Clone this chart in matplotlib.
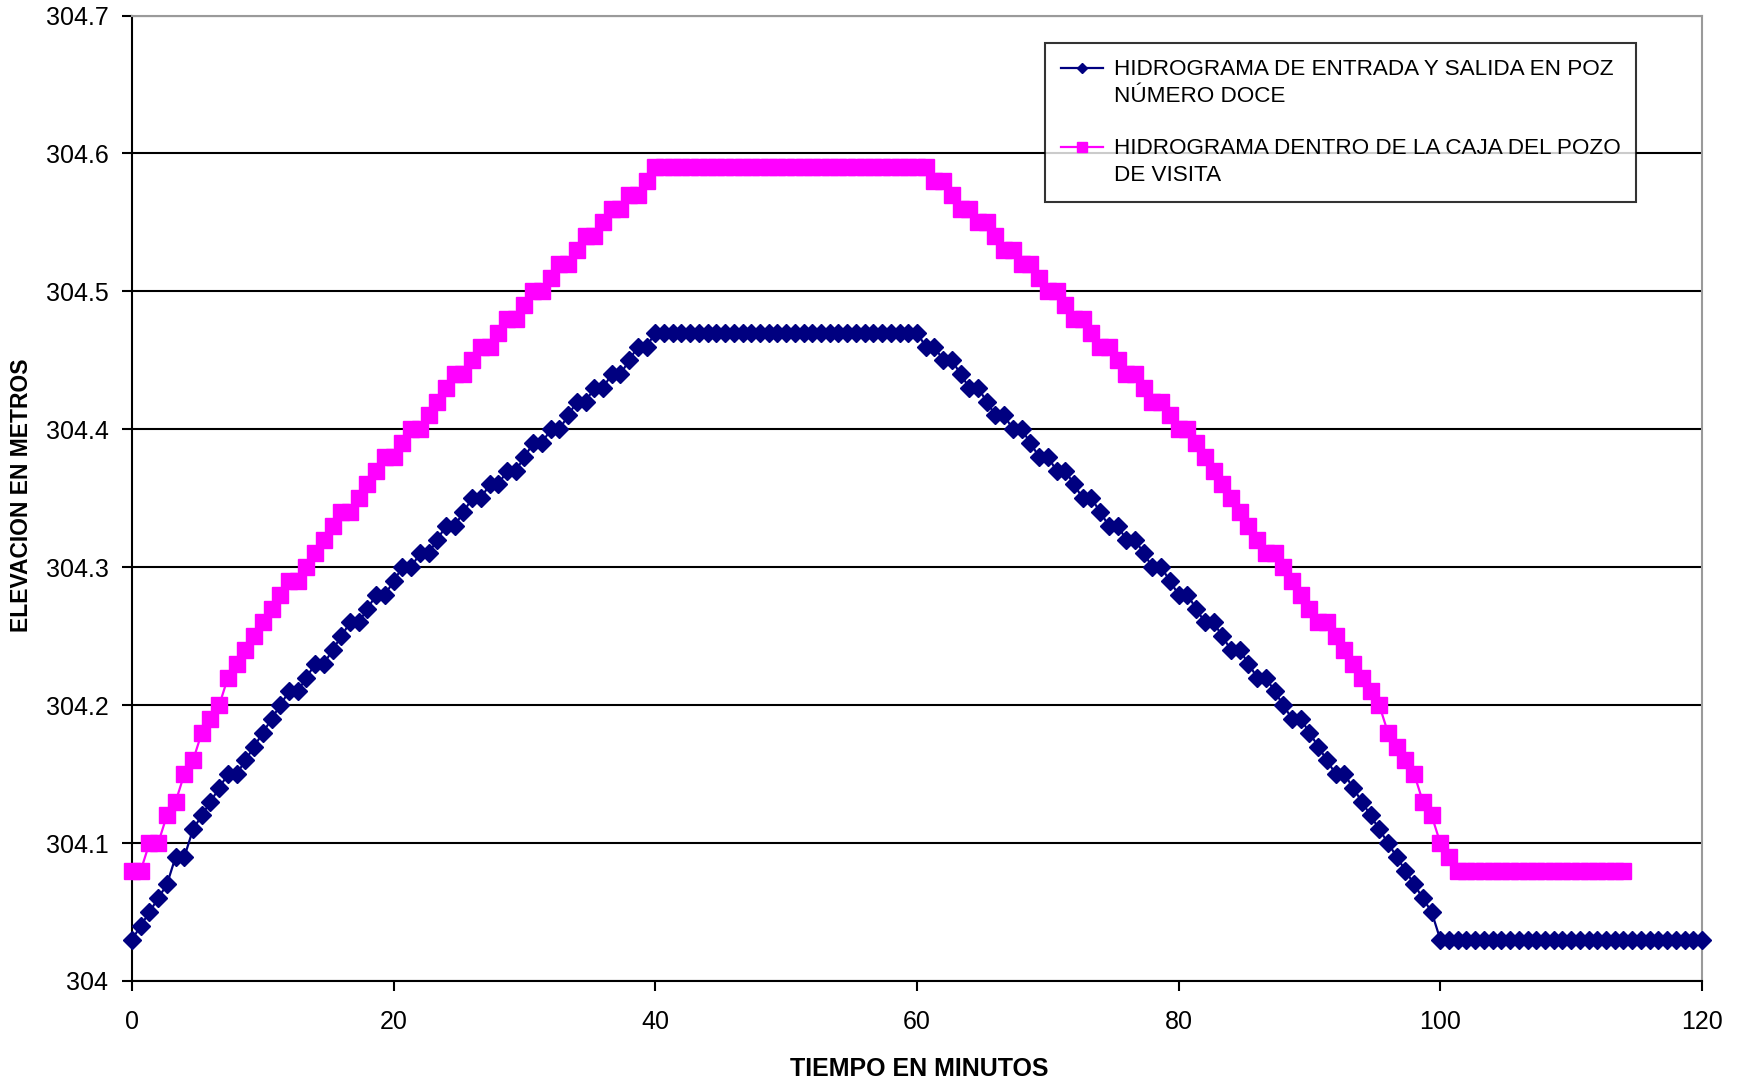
import matplotlib
matplotlib.use("Agg")
import matplotlib.pyplot as plt
import numpy as np
from matplotlib import font_manager
from matplotlib.legend_handler import HandlerLine2D

# ---------------- data ----------------
TIME_STEP_MIN = 40.0 / 60.0   # one reading every 40 s

# HIDROGRAMA DE ENTRADA Y SALIDA EN POZO NUMERO DOCE (m)
blue_elev = [
    304.03, 304.04, 304.05, 304.06, 304.07, 304.09, 304.09, 304.11, 304.12, 304.13,
    304.14, 304.15, 304.15, 304.16, 304.17, 304.18, 304.19, 304.20, 304.21, 304.21,
    304.22, 304.23, 304.23, 304.24, 304.25, 304.26, 304.26, 304.27, 304.28, 304.28,
    304.29, 304.30, 304.30, 304.31, 304.31, 304.32, 304.33, 304.33, 304.34, 304.35,
    304.35, 304.36, 304.36, 304.37, 304.37, 304.38, 304.39, 304.39, 304.40, 304.40,
    304.41, 304.42, 304.42, 304.43, 304.43, 304.44, 304.44, 304.45, 304.46, 304.46,
    304.47,
    304.47, 304.47, 304.47, 304.47, 304.47, 304.47, 304.47, 304.47, 304.47, 304.47,
    304.47, 304.47, 304.47, 304.47, 304.47, 304.47, 304.47, 304.47, 304.47, 304.47,
    304.47, 304.47, 304.47, 304.47, 304.47, 304.47, 304.47, 304.47, 304.47, 304.47,
    304.46, 304.46, 304.45, 304.45, 304.44, 304.43, 304.43, 304.42, 304.41, 304.41,
    304.40, 304.40, 304.39, 304.38, 304.38, 304.37, 304.37, 304.36, 304.35, 304.35,
    304.34, 304.33, 304.33, 304.32, 304.32, 304.31, 304.30, 304.30, 304.29, 304.28,
    304.28, 304.27, 304.26, 304.26, 304.25, 304.24, 304.24, 304.23, 304.22, 304.22,
    304.21, 304.20, 304.19, 304.19, 304.18, 304.17, 304.16, 304.15, 304.15, 304.14,
    304.13, 304.12, 304.11, 304.10, 304.09, 304.08, 304.07, 304.06, 304.05, 304.03,
    304.03, 304.03, 304.03, 304.03, 304.03, 304.03, 304.03, 304.03, 304.03, 304.03,
    304.03, 304.03, 304.03, 304.03, 304.03, 304.03, 304.03, 304.03, 304.03, 304.03,
    304.03, 304.03, 304.03, 304.03, 304.03, 304.03, 304.03, 304.03, 304.03, 304.03,
]

# HIDROGRAMA DENTRO DE LA CAJA DEL POZO DE VISITA (m)
magenta_elev = [
    304.08, 304.08, 304.10, 304.10, 304.12, 304.13, 304.15, 304.16, 304.18, 304.19,
    304.20, 304.22, 304.23, 304.24, 304.25, 304.26, 304.27, 304.28, 304.29, 304.29,
    304.30, 304.31, 304.32, 304.33, 304.34, 304.34, 304.35, 304.36, 304.37, 304.38,
    304.38, 304.39, 304.40, 304.40, 304.41, 304.42, 304.43, 304.44, 304.44, 304.45,
    304.46, 304.46, 304.47, 304.48, 304.48, 304.49, 304.50, 304.50, 304.51, 304.52,
    304.52, 304.53, 304.54, 304.54, 304.55, 304.56, 304.56, 304.57, 304.57, 304.58,
    304.59,
    304.59, 304.59, 304.59, 304.59, 304.59, 304.59, 304.59, 304.59, 304.59, 304.59,
    304.59, 304.59, 304.59, 304.59, 304.59, 304.59, 304.59, 304.59, 304.59, 304.59,
    304.59, 304.59, 304.59, 304.59, 304.59, 304.59, 304.59, 304.59, 304.59, 304.59,
    304.59,
    304.58, 304.58, 304.57, 304.56, 304.56, 304.55, 304.55, 304.54, 304.53, 304.53,
    304.52, 304.52, 304.51, 304.50, 304.50, 304.49, 304.48, 304.48, 304.47, 304.46,
    304.46, 304.45, 304.44, 304.44, 304.43, 304.42, 304.42, 304.41, 304.40, 304.40,
    304.39, 304.38, 304.37, 304.36, 304.35, 304.34, 304.33, 304.32, 304.31, 304.31,
    304.30, 304.29, 304.28, 304.27, 304.26, 304.26, 304.25, 304.24, 304.23, 304.22,
    304.21, 304.20, 304.18, 304.17, 304.16, 304.15, 304.13, 304.12, 304.10, 304.09,
    304.08, 304.08, 304.08, 304.08, 304.08, 304.08, 304.08, 304.08, 304.08, 304.08,
    304.08, 304.08, 304.08, 304.08, 304.08, 304.08, 304.08, 304.08, 304.08, 304.08,
]

blue_label = "HIDROGRAMA DE ENTRADA Y SALIDA EN POZ\nNÚMERO DOCE"
magenta_label = "HIDROGRAMA DENTRO DE LA CAJA DEL POZO\nDE VISITA"

x_ticks = [0, 20, 40, 60, 80, 100, 120]
y_ticks = [304.0, 304.1, 304.2, 304.3, 304.4, 304.5, 304.6, 304.7]
y_tick_labels = ["304", "304.1", "304.2", "304.3", "304.4", "304.5", "304.6", "304.7"]

x_title = "TIEMPO EN MINUTOS"
y_title = "ELEVACION EN METROS"

# ---------------- fonts ----------------
names = {f.name for f in font_manager.fontManager.ttflist}
narrow = "Liberation Sans Narrow" if "Liberation Sans Narrow" in names else "Liberation Sans"
plt.rcParams["font.family"] = ["Liberation Sans", "DejaVu Sans"]


class FirstLineHandler(HandlerLine2D):
    """Place the legend key level with the first line of a two-line label."""
    def __init__(self, shift=0.0, **kw):
        super().__init__(**kw)
        self.shift = shift

    def create_artists(self, legend, orig_handle, xdescent, ydescent, width,
                       height, fontsize, trans):
        return super().create_artists(legend, orig_handle, xdescent,
                                      ydescent - 2 * self.shift, width, height,
                                      fontsize, trans)


# ---------------- figure ----------------
fig = plt.figure(figsize=(17.4, 10.87), dpi=100)
ax = fig.add_axes([132 / 1740, 1 - 981 / 1087, 1570 / 1740, 965.5 / 1087])

t_blue = np.arange(len(blue_elev)) * TIME_STEP_MIN
t_mag = np.arange(len(magenta_elev)) * TIME_STEP_MIN

l1, = ax.plot(t_blue, blue_elev, color="#000080", lw=1.6, marker="D", ms=9,
              mec="#000080", mfc="#000080", label=blue_label, clip_on=False, zorder=4)
l2, = ax.plot(t_mag, magenta_elev, color="#FF00FF", lw=1.6, marker="s", ms=11,
              mec="#FF00FF", mfc="#FF00FF", label=magenta_label, clip_on=False, zorder=3)

ax.set_xlim(0, 120)
ax.set_ylim(304.0, 304.7)
ax.set_xticks(x_ticks)
ax.set_xticklabels([str(v) for v in x_ticks])
ax.set_yticks(y_ticks)
ax.set_yticklabels(y_tick_labels)

ax.yaxis.grid(True, color="black", lw=1.5)
ax.set_axisbelow(True)

for side in ("left", "bottom"):
    ax.spines[side].set_color("black")
    ax.spines[side].set_linewidth(1.5)
for side in ("top", "right"):
    ax.spines[side].set_color("#9a9a9a")
    ax.spines[side].set_linewidth(1.5)

ax.tick_params(axis="both", direction="out", length=7, width=1.5, labelsize=18,
               colors="black")
ax.tick_params(axis="y", pad=10)
ax.tick_params(axis="x", pad=14)

fig.text(828 * 1740 / 1568 / 1740, 1 - 1069 / 1087, x_title, ha="center", va="center",
         fontsize=18, fontweight="bold", family=[narrow, "DejaVu Sans"])
fig.text(22 / 1740, 1 - 495 / 1087, y_title, ha="center", va="center",
         rotation=90, fontsize=16.5, fontweight="bold", family=[narrow, "DejaVu Sans"])

leg_fs = 16.2
hshift = 0.67 * leg_fs
leg = ax.legend(handles=[l1, l2], loc="upper left",
                bbox_to_anchor=((1045 - 132) / 1570, (981 - 43) / 965.5),
                borderaxespad=0, frameon=True, fancybox=False, edgecolor="black",
                prop={"family": [narrow, "DejaVu Sans"], "size": leg_fs},
                handlelength=1.9, handletextpad=0.45, labelspacing=1.4,
                borderpad=0.7, markerscale=0.6,
                handler_map={l1: FirstLineHandler(shift=hshift),
                             l2: FirstLineHandler(shift=hshift)})
leg.get_frame().set_linewidth(1.5)
for t in leg.get_texts():
    t.set_linespacing(1.38)

fig.savefig("out.png", dpi=100, facecolor="white")
